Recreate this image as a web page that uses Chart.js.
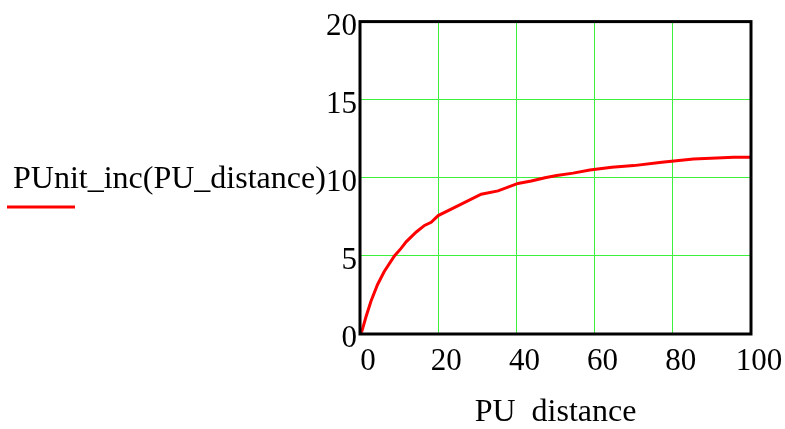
<!DOCTYPE html>
<html>
<head>
<meta charset="utf-8">
<script src="https://cdn.jsdelivr.net/npm/chart.js@4"></script>
<style>
  body { margin: 0; background: #fff; }
</style>
</head>
<body>
<canvas id="graph" width="785" height="429"></canvas>
<script>
// values
const distance = [0, 0.5, 1.5, 2.8, 4.5, 6.2, 8.8, 10.5, 11.8, 14.4, 16.5, 18.2, 20, 25, 31, 35.3, 40.4, 43.8, 47.3, 50.3, 54.5, 58.8, 64.4, 70, 77.2, 85.3, 95.6, 100];
const unitInc = [0, 0.2, 1.07, 2.1, 3.17, 4.0, 5.0, 5.48, 5.9, 6.53, 6.95, 7.15, 7.58, 8.2, 8.95, 9.16, 9.64, 9.79, 10.0, 10.15, 10.3, 10.5, 10.67, 10.78, 10.99, 11.2, 11.32, 11.32];
const xTicks = [0, 20, 40, 60, 80, 100];
const yTicks = [0, 5, 10, 15, 20];
const seriesName = 'PUnit_inc(PU_distance)';
const xTitle = 'PU  distance';

const serif = "'Liberation Serif', 'Times New Roman', serif";

// frame around the plot + the legend on the left
const framePlugin = {
  id: 'frame',
  afterDatasetsDraw(chart) {
    const ctx = chart.ctx;
    const a = chart.chartArea;
    ctx.save();
    ctx.strokeStyle = '#000';
    ctx.lineWidth = 3;
    ctx.strokeRect(a.left, a.top, a.right - a.left, a.bottom - a.top);
    ctx.restore();
  },
  afterDraw(chart) {
    const ctx = chart.ctx;
    ctx.save();
    ctx.font = '32px ' + serif;
    ctx.fillStyle = '#000';
    ctx.textBaseline = 'alphabetic';
    ctx.fillText(seriesName, 13, 188);
    ctx.strokeStyle = 'rgb(255,0,0)';
    ctx.lineWidth = 3;
    ctx.beginPath();
    ctx.moveTo(7, 207);
    ctx.lineTo(75, 207);
    ctx.stroke();
    ctx.restore();
  }
};

const graph = document.getElementById('graph').getContext('2d');
let myChart = new Chart(graph, {
  type: 'line',
  data: {
    datasets: [{
      label: seriesName,
      data: distance.map((d, i) => ({ x: d, y: unitInc[i] })),
      borderColor: 'rgb(255,0,0)',
      borderWidth: 3,
      pointRadius: 0,
      tension: 0,
      fill: false
    }]
  },
  options: {
    responsive: false,
    animation: false,
    layout: {
      padding: { left: 0, top: 16, right: 34, bottom: 0 }
    },
    plugins: {
      legend: { display: false },
      tooltip: { enabled: false }
    },
    scales: {
      x: {
        type: 'linear',
        min: 0,
        max: 100,
        afterBuildTicks: s => { s.ticks = xTicks.map(v => ({ value: v })); },
        afterFit: s => { s.height = 95; },
        grid: { color: 'rgb(60,240,60)', lineWidth: 1, drawTicks: false },
        border: { display: false },
        ticks: {
          font: { family: serif, size: 31 },
          color: '#000',
          padding: 9,
          labelOffset: 8,
          maxRotation: 0
        },
        title: {
          display: true,
          text: xTitle,
          font: { family: serif, size: 32, lineHeight: 1 },
          color: '#000',
          padding: { top: 0, bottom: 0 }
        }
      },
      y: {
        type: 'linear',
        min: 0,
        max: 20,
        afterBuildTicks: s => { s.ticks = yTicks.map(v => ({ value: v })); },
        afterFit: s => { s.width = 360; },
        grid: { color: 'rgb(60,240,60)', lineWidth: 1, drawTicks: false },
        border: { display: false },
        ticks: {
          font: { family: serif, size: 31 },
          color: '#000',
          padding: 3,
          labelOffset: 5
        }
      }
    }
  },
  plugins: [framePlugin]
});
</script>
</body>
</html>
